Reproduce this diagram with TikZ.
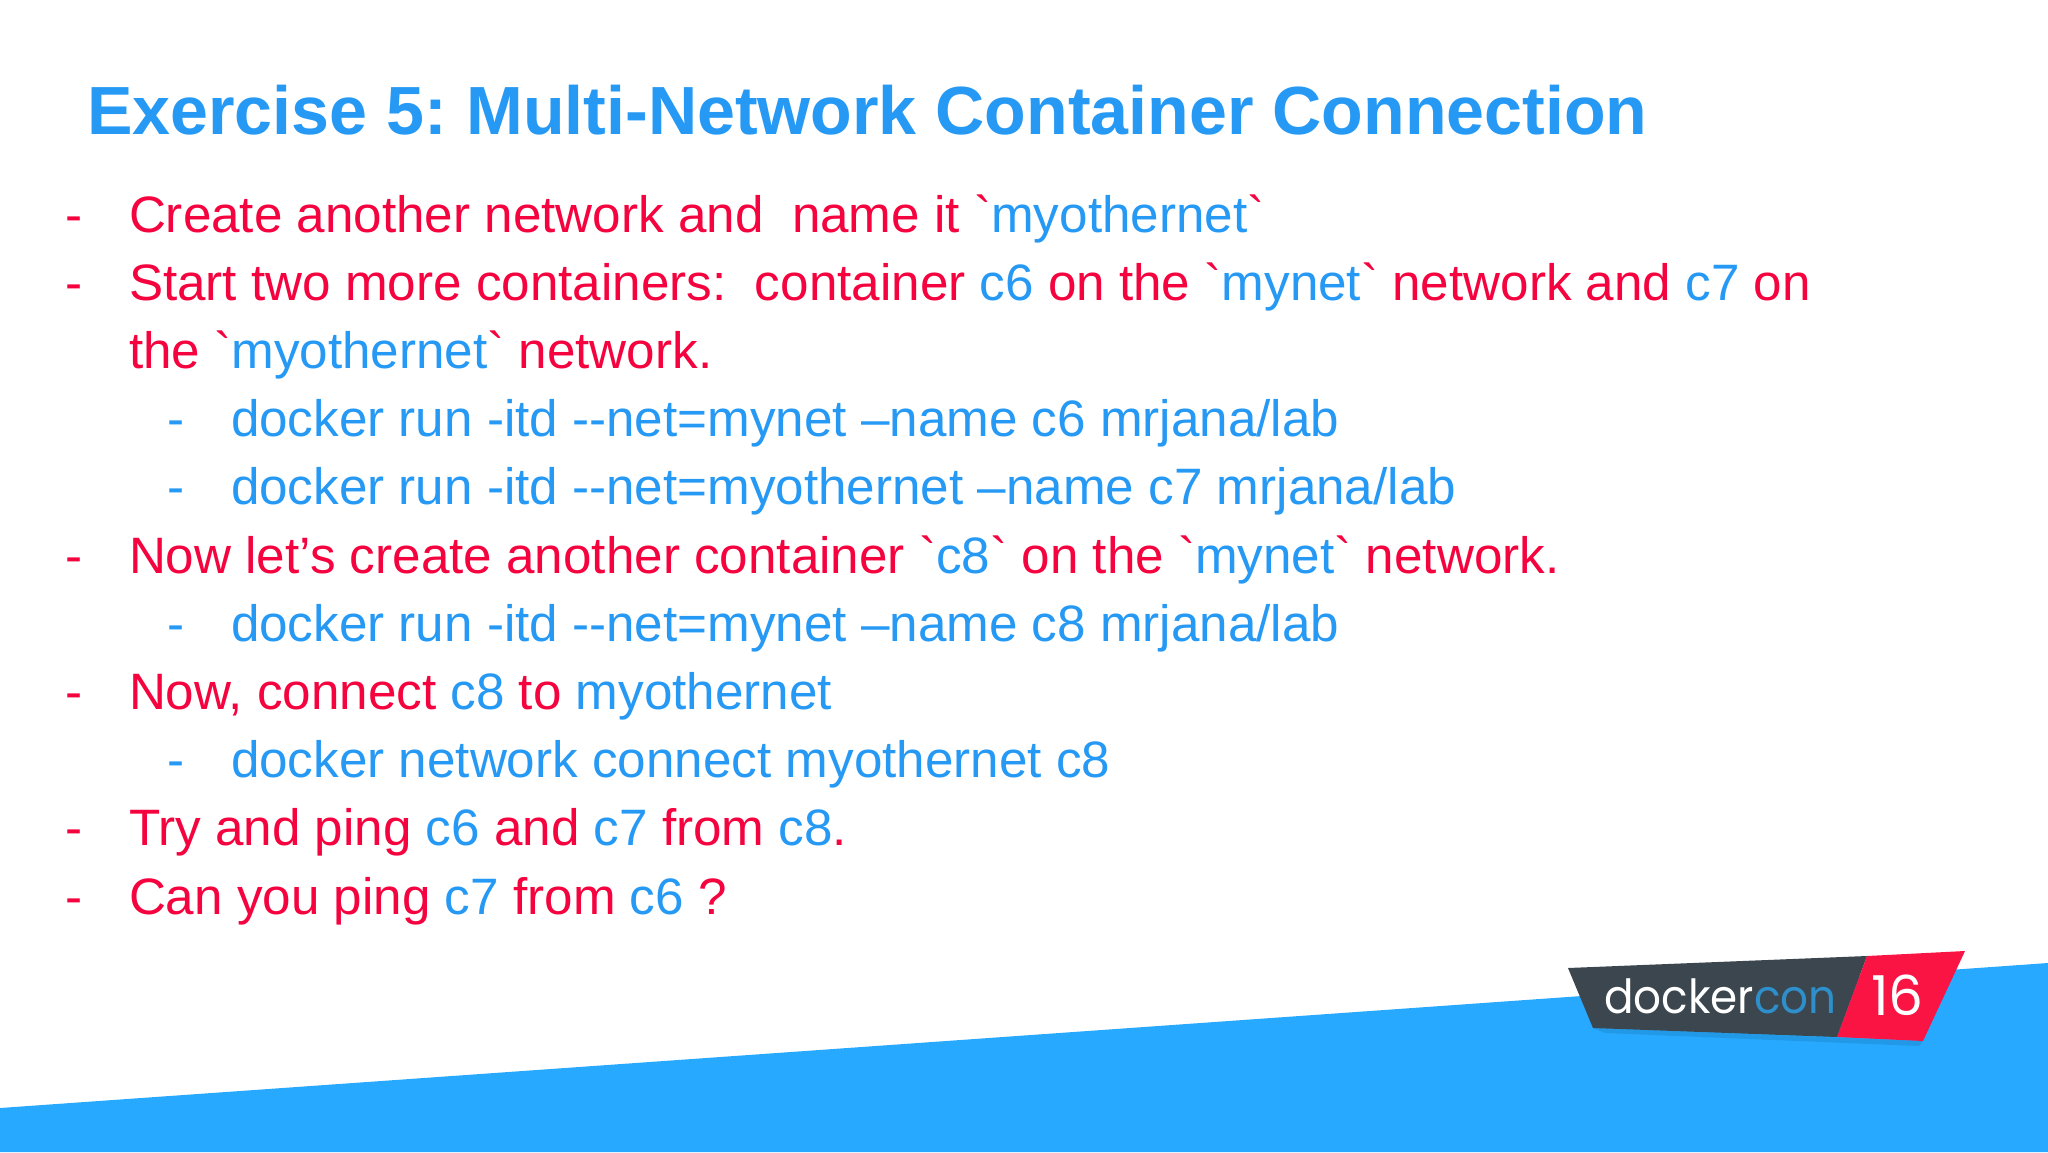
\documentclass[tikz,border=0pt]{standalone}
\usepackage{graphicx}
\usepackage{fontspec}
\newfontfamily\mainf{Liberation Sans}
\newfontfamily\logofont{Poppins}
\definecolor{tblue}{HTML}{2699F5}
\definecolor{tred}{HTML}{F5033F}
\definecolor{band}{HTML}{27A9FF}
\definecolor{logoshade}{HTML}{2299E6}
\definecolor{logodark}{HTML}{3B464E}
\definecolor{logored}{HTML}{FA1444}
\definecolor{logoblue}{HTML}{2E8FCB}
\newcommand{\bl}[1]{\textcolor{tblue}{#1}}
\tikzset{
 x=1pt,y=-1pt,
 bodytext/.style={anchor=base west,inner sep=0pt,outer sep=0pt,text=tred,font=\mainf\fontsize{51.2}{60}\selectfont},
 subtext/.style={bodytext,text=tblue},
 titletext/.style={anchor=base west,inner sep=0pt,outer sep=0pt,text=tblue,font=\mainf\fontsize{68.15}{80}\selectfont\bfseries}
}
\begin{document}
\begin{tikzpicture}
\useasboundingbox (0,0) rectangle (2048,1152);
\fill[white] (0,0) rectangle (2048,1152);
\fill[band] (0,1108) -- (2048,963) -- (2048,1152) -- (0,1152) -- cycle;
\fill[logoshade] (1593,1028) -- (1923,1041) -- (1919,1046) -- (1605,1033) -- cycle;
\fill[logodark] (1568,968) -- (1867,956) -- (1837,1037) -- (1593,1028) -- cycle;
\fill[logored] (1867,956) -- (1965,951) -- (1923,1041) -- (1837,1037) -- cycle;
\node[titletext] (title) at (87,134.5) {Exercise 5:\kern0.5pt\ Multi-Network Container Connection};
\node[bodytext] (d1) at (65,232.2) {-};
\node[bodytext] (l1) at (129,232.2) {Create another network and\ \ name it `\bl{myothernet}`};
\node[bodytext] (d2) at (65,300.2) {-};
\node[bodytext] (l2) at (129,300.2) {Start two more containers:\ \ container \bl{c6} on the `\bl{mynet}` network and \bl{c7} on};
\node[bodytext] (l3) at (129,368.4) {the `\bl{myothernet}` network.};
\node[subtext] (d4) at (167,436.5) {-};
\node[subtext] (l4) at (231,436.5) {docker run -itd --net=mynet –name c6 mrjana/lab};
\node[subtext] (d5) at (167,504.7) {-};
\node[subtext] (l5) at (231,504.7) {docker run -itd --net=myothernet –name c7 mrjana/lab};
\node[bodytext] (d6) at (65,573) {-};
\node[bodytext] (l6) at (129,573) {Now let’s create another container `\bl{c8}` on the `\bl{mynet}` network.};
\node[subtext] (d7) at (167,641.2) {-};
\node[subtext] (l7) at (231,641.2) {docker run -itd --net=mynet –name c8 mrjana/lab};
\node[bodytext] (d8) at (65,709.4) {-};
\node[bodytext] (l8) at (129,709.4) {Now, connect \bl{c8} to \bl{myothernet}};
\node[subtext] (d9) at (167,777.6) {-};
\node[subtext] (l9) at (231,777.6) {docker network connect myothernet c8};
\node[bodytext] (d10) at (65,845.8) {-};
\node[bodytext] (l10) at (129,845.8) {Try and ping \bl{c6} and \bl{c7} from \bl{c8}.};
\node[bodytext] (d11) at (65,914) {-};
\node[bodytext] (l11) at (129,914) {Can you ping \bl{c7} from \bl{c6} ?};
\node[anchor=base west,inner sep=0pt,text=white,font=\logofont\fontsize{47}{47}\selectfont] (logo) at (1604,1013) {\scalebox{0.93}[1]{docker\textcolor{logoblue}{con}}};
\node[anchor=base west,inner sep=0pt,text=white,font=\logofont\fontsize{55}{55}\selectfont] (num) at (1871,1015) {16};
\end{tikzpicture}
\end{document}
